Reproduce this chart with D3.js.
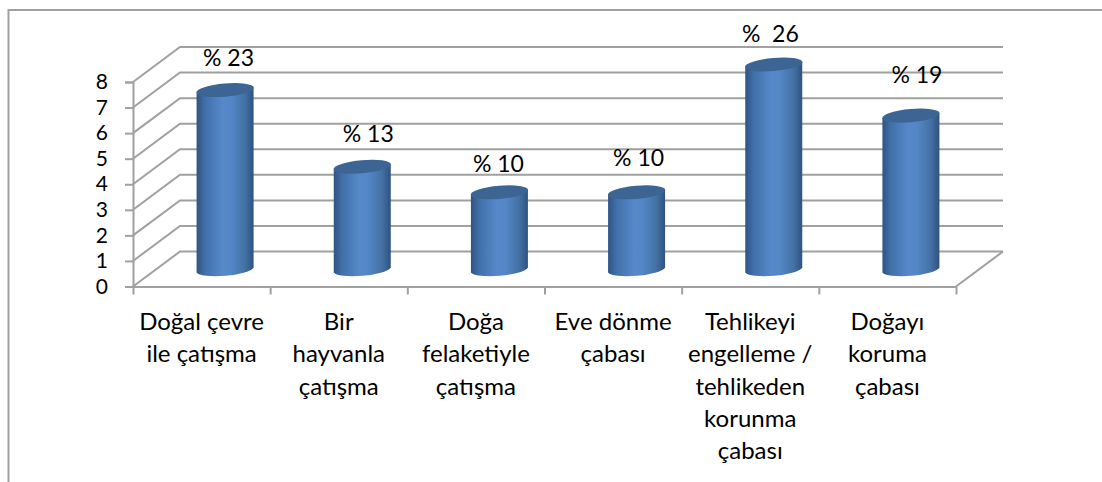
<!DOCTYPE html>
<html>
<head>
<meta charset="utf-8">
<script src="https://d3js.org/d3.v7.min.js"></script>
<style>
  html, body { margin: 0; padding: 0; background: #fff; }
  svg { display: block; }
  text { font-family: Lato, "Open Sans", sans-serif; fill: #000; white-space: pre; }
  .grid, .frame { fill: none; stroke: #a0a0a0; stroke-width: 2; }
  .axis path, .axis line { stroke: #a0a0a0; stroke-width: 2; }
</style>
</head>
<body>
<svg id="svg1" width="1102" height="482"></svg>
<script>
var categories = [
  ["Doğal çevre", "ile çatışma"],
  ["Bir", "hayvanla", "çatışma"],
  ["Doğa", "felaketiyle", "çatışma"],
  ["Eve dönme", "çabası"],
  ["Tehlikeyi", "engelleme /", "tehlikeden", "korunma", "çabası"],
  ["Doğayı", "koruma", "çabası"]
];
var values = [7, 4, 3, 3, 8, 6];
var percentLabels = ["% 23", "% 13", "% 10", "% 10", "%  26", "% 19"];
var yTicks = [0, 1, 2, 3, 4, 5, 6, 7, 8];

// the labels were placed by hand in the original, so each has its own nudge
var labelNudge = [[3.4, -24.3], [6, -24.5], [-1, -20], [2, -26], [-3.4, -23], [6, -33]];

var svg = d3.select("#svg1"),
    left = 133, right = 956, bottom = 286.5, top_ = 82,
    depthX = 47, depthY = 35,
    barW = 57, rx = 28.8, ry = 6.6, tilt = -5;

var x = d3.scaleBand().domain(d3.range(categories.length)).range([left, right]);
var xEdge = d3.scaleLinear().domain([0, categories.length]).range([left, right]);
var y = d3.scaleLinear().domain([0, 8]).range([bottom, top_]);

var defs = svg.append("defs");
var grad = defs.append("linearGradient").attr("id", "cyl");
[[0, "#2f5484"], [0.15, "#4170a9"], [0.45, "#5688ca"], [0.6, "#5487c7"], [0.85, "#4371a3"], [1, "#2e5281"]].forEach(function(s) {
  grad.append("stop").attr("offset", s[0]).attr("stop-color", s[1]);
});

// outer frame, only top and left show
svg.append("path").attr("class", "frame").attr("d", "M8.5,482V10H1102");

// back wall and side wall lines
svg.append("g").selectAll("path")
    .data(yTicks)
  .enter().append("path")
    .attr("class", "grid")
    .attr("d", function(d) {
      var p = d3.path();
      p.moveTo(left, y(d));
      p.lineTo(left + depthX, y(d) - depthY);
      p.lineTo(right + depthX, y(d) - depthY);
      return p.toString();
    });

// floor edge on the right
svg.append("path")
    .attr("class", "grid")
    .attr("d", "M" + right + "," + y(0) + "L" + (right + depthX) + "," + (y(0) - depthY));

var yAxis = svg.append("g")
    .attr("class", "axis")
    .attr("transform", "translate(" + left + ",0)")
    .call(d3.axisLeft(y).tickValues(yTicks).tickSize(8).tickPadding(17).tickFormat(d3.format("d")));
yAxis.selectAll("text").attr("font-size", 21).style("font-family", "Lato");

svg.append("g")
    .attr("class", "axis")
    .attr("transform", "translate(0," + y(0) + ")")
    .call(d3.axisBottom(xEdge).tickValues(d3.range(categories.length + 1)).tickSize(8).tickSizeOuter(0).tickFormat(""));

// cylinders
var bars = svg.append("g").selectAll("g")
    .data(values)
  .enter().append("g")
    .attr("transform", function(d, i) {
      return "translate(" + (x(i) + x.bandwidth() / 2 + depthX / 2) + ",0)";
    });

var dy = Math.tan(tilt * Math.PI / 180) * barW / 2;

bars.append("path")
    .attr("fill", "url(#cyl)")
    .attr("d", function(d) {
      var t = y(d) - depthY / 2, b = y(0) - depthY / 2 + 1;
      return "M" + (-barW / 2) + "," + (t - dy) +
        "L" + (-barW / 2) + "," + (b - dy) +
        "A" + rx + "," + ry + " " + tilt + " 0 0 " + (barW / 2) + "," + (b + dy) +
        "L" + (barW / 2) + "," + (t + dy) + "Z";
    });

bars.append("ellipse")
    .attr("rx", rx)
    .attr("ry", ry)
    .attr("fill", "#3c6594")
    .attr("transform", function(d) {
      return "translate(0," + (y(d) - depthY / 2) + ") rotate(" + tilt + ")";
    });

// percent labels over the bars
bars.append("text")
    .attr("text-anchor", "middle")
    .attr("font-size", 23)
    .attr("x", function(d, i) { return labelNudge[i][0]; })
    .attr("y", function(d, i) { return y(d) - depthY / 2 + labelNudge[i][1]; })
    .text(function(d, i) { return percentLabels[i]; });

// category labels
svg.append("g").selectAll("text")
    .data(categories)
  .enter().append("text")
    .attr("text-anchor", "middle")
    .attr("font-size", 24)
    .each(function(lines, i) {
      d3.select(this).selectAll("tspan")
          .data(lines)
        .enter().append("tspan")
          .attr("x", x(i) + x.bandwidth() / 2)
          .attr("y", function(d, j) { return 330 + j * 32.3; })
          .text(function(d) { return d; });
    });
</script>
</body>
</html>
